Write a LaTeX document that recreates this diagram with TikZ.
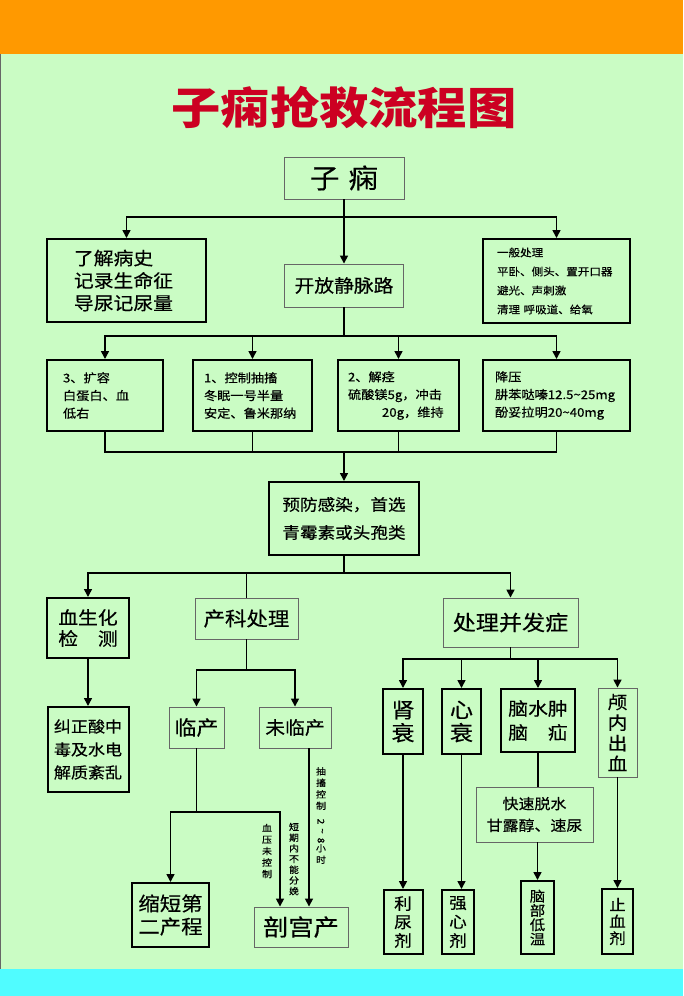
\documentclass[tikz,border=0pt]{standalone}
\usepackage{fontspec}
\usepackage{graphicx}
\setmainfont{Noto Sans CJK SC}[FakeStretch=1.1, FakeBold=0.4]
\newfontfamily\titlefont{Noto Sans CJK SC}[FakeStretch=1.12]
\usetikzlibrary{arrows.meta, calc, positioning}
\definecolor{bggreen}{RGB}{202,252,196}
\definecolor{bandorange}{RGB}{255,153,0}
\definecolor{bandcyan}{RGB}{80,252,255}
\definecolor{titlered}{RGB}{204,0,34}
\newcommand\fsz[2]{\fontsize{#1}{#2}\selectfont}
\tikzset{
    thinbox/.style={
        draw=black!60, line width=0.9pt, inner sep=0pt, align=center
    },
    boldbox/.style={
        draw=black, line width=2pt, inner sep=0pt, align=center
    },
    link/.style={
        line width=1.6pt, black
    },
    arr/.style={
        link, -{Triangle[length=8pt, width=8pt]}
    },
    vlabel/.style={
        align=center, inner sep=0pt, font=\fsz{9}{11.5}
    }
}

\begin{document}
\begin{tikzpicture}[
        x=1pt, y=-1pt,
        % 第二排四个方框
        rowbox/.style={
            boldbox, minimum height=71pt, align=left, font=\fsz{12}{17.7}
        }
    ]
    \useasboundingbox (0,0) rectangle (683,996);

    % ======================================
    % 背景
    % ======================================
    \fill[bggreen] (0,0) rectangle (683,996);
    \fill[bandorange] (0,0) rectangle (683,54);
    \fill[bandcyan] (0,969) rectangle (683,996);
    \draw[black!60, line width=1pt] (0.5,54) -- (0.5,969);

    \node[font=\titlefont\bfseries\fsz{44}{48}, text=titlered] (title) at (344,107) {子痫抢救流程图};

    % ======================================
    % 子痫 -> 三个方框
    % ======================================
    \node[thinbox, minimum width=120pt, minimum height=42pt, font=\fsz{27}{30}] (zixian) at (344,178) {子\hspace{9pt}痫};
    \node[boldbox, minimum height=83pt, inner xsep=27pt, text width=105pt, align=left, font=\fsz{18}{22.5}] (liaojie) at (126.5,280.5) {了解病史\\记录生命征\\导尿记尿量};
    \node[thinbox, minimum width=119pt, minimum height=43pt, font=\fsz{18}{22}] (jingmai) at (344,285.5) {开放静脉路};
    \node[boldbox, minimum height=84pt, inner xsep=14pt, text width=119pt, align=left, font=\fsz{10.5}{19}] (yiban) at (556.5,281) {一般处理\\平卧、侧头、置开口器\\避光、声刺激\\清理 呼吸道、给氧};

    \coordinate (j1) at (344,217);
    \draw[arr] (zixian.south) -- (jingmai.north);
    \draw[arr] (j1) -| (liaojie.north);
    \draw[arr] (j1) -| (yiban.north);

    % ======================================
    % 开放静脉路 -> 四项处理
    % ======================================
    \node[rowbox, inner xsep=16pt, text width=84pt] (kuorong) at (105,395.5) {3、扩容\\白蛋白、血\\低右};
    \node[rowbox, inner xsep=11pt, text width=97pt] (kongzhi) at (252.5,395.5) {1、控制抽搐\\冬眠一号半量\\安定、鲁米那纳};
    \node[rowbox, inner xsep=10pt, text width=101pt] (jiejing) at (398.5,395.5) {2、解痉\\硫酸镁5g，冲击\\\hspace*{34pt}20g，维持};
    \node[rowbox, inner xsep=12pt, text width=123pt] (jiangya) at (556.5,395.5) {降压\\肼苯哒嗪12.5\textasciitilde25mg\\酚妥拉明20\textasciitilde40mg};

    \coordinate (j2) at (344,336);
    \coordinate (j3) at (344,452);
    \draw[link] (jingmai.south) -- (j2);
    \foreach \n in {kuorong,kongzhi,jiejing,jiangya} {
        \draw[arr] (j2) -| (\n.north);
        \draw[link] (\n.south) |- (j3);
    }

    \node[boldbox, minimum width=150pt, minimum height=73pt, font=\fsz{16}{28}] (yufang) at (344,518.5) {预防感染，首选\\青霉素或头孢类};
    \draw[arr] (j3) -- (yufang.north);

    % ======================================
    % 预防感染 -> 三个分支
    % ======================================
    \node[boldbox, minimum width=82pt, minimum height=60pt, font=\fsz{18}{21}] (xsh) at (88,628) {血生化\\检　测};
    \node[thinbox, minimum width=103pt, minimum height=41pt, font=\fsz{19.5}{22}] (chanke) at (246.5,618.5) {产科处理};
    \node[thinbox, minimum width=135pt, minimum height=49pt, font=\fsz{21}{24}] (bingfa) at (510.5,622.5) {处理并发症};

    \coordinate (j4) at (344,573);
    \draw[link] (yufang.south) -- (j4);
    \draw[arr] (j4) -| (xsh.north);
    \draw[link] (j4) -| (chanke.north);
    \draw[arr] (j4) -| (bingfa.north);

    \node[boldbox, minimum width=81pt, minimum height=85pt, font=\fsz{15.5}{23}] (jiuzheng) at (88,749.5) {纠正酸中\\毒及水电\\解质紊乱};
    \draw[arr] (xsh.south) -- (jiuzheng.north);

    % ======================================
    % 产科处理
    % ======================================
    \node[thinbox, minimum width=55pt, minimum height=41pt, font=\fsz{20}{22}] (linchan) at (196.5,727.5) {临产};
    \node[thinbox, minimum width=72pt, minimum height=41pt, font=\fsz{18}{22}] (weilin) at (295,727.5) {未临产};
    \node[boldbox, minimum width=77pt, minimum height=64pt, font=\fsz{19.5}{23}] (suoduan) at (170.5,915) {缩短第\\二产程};
    \node[thinbox, minimum width=94pt, minimum height=40pt, font=\fsz{23}{25}] (pougong) at (301,927) {剖宫产};

    \coordinate (j5) at (246.5,670);
    \coordinate (j6) at (196.5,812);
    \draw[link] (chanke.south) -- (j5);
    \draw[arr] (j5) -| (linchan.north);
    \draw[arr] (j5) -| (weilin.north);
    \draw[link] (linchan.south) -- (j6);
    \draw[arr] (j6) -| (suoduan.north);
    \draw[arr] (j6) -| ($(pougong.north)+(-21,0)$);
    \draw[arr] ($(weilin.south)+(14,0)$) -- ($(pougong.north)+(8,0)$);

    \node[vlabel] (lbl1) at (267,851) {血\\压\\未\\控\\制};
    \node[vlabel, font=\fsz{9}{10.7}] (lbl2) at (294,859) {短\\期\\内\\不\\能\\分\\娩};
    \node[vlabel] (lbl3) at (321,815.5) {抽\\搐\\控\\制\\[-2pt]\rotatebox{-90}{2}\\[-2pt]\rotatebox{-90}{\textasciitilde}\\[-2pt]\rotatebox{-90}{8}\\小\\时};

    % ======================================
    % 处理并发症
    % ======================================
    \node[boldbox, minimum width=40pt, minimum height=65pt, font=\fsz{21}{23}] (shenshuai) at (403,721.5) {肾\\衰};
    \node[boldbox, minimum width=39pt, minimum height=65pt, font=\fsz{21}{23}] (xinshuai) at (461.5,721.5) {心\\衰};
    \node[boldbox, minimum width=74pt, minimum height=63pt, font=\fsz{18}{24}] (naoshui) at (538,720.5) {脑水肿\\脑　疝};
    \node[thinbox, minimum width=39pt, minimum height=89pt, font=\fsz{18}{20.6}] (luxue) at (617.5,732.5) {颅\\内\\出\\血};
    \node[thinbox, minimum width=117pt, minimum height=55pt, font=\fsz{14.5}{21.7}] (kuaisu) at (534.5,814.5) {快速脱水\\甘露醇、速尿};

    \node[boldbox, minimum width=39pt, minimum height=64pt, font=\fsz{16}{18.5}] (liniao) at (403,922) {利\\尿\\剂};
    \node[boldbox, minimum width=32pt, minimum height=64pt, font=\fsz{16}{19}] (qiangxin) at (458,922) {强\\心\\剂};
    \node[boldbox, minimum width=33pt, minimum height=73pt, font=\fsz{14}{14.3}] (naobu) at (537.5,917.5) {脑\\部\\低\\温};
    \node[boldbox, minimum width=31pt, minimum height=65pt, font=\fsz{15}{16.7}] (zhixue) at (617.5,921.5) {止\\血\\剂};

    \coordinate (j7) at (510.5,659);
    \draw[link] (bingfa.south) -- (j7);
    \foreach \n in {shenshuai,xinshuai,naoshui,luxue}
        \draw[arr] (j7) -| (\n.north);
    \draw[arr] (shenshuai.south) -- (liniao.north);
    \draw[arr] (xinshuai.south) -- (xinshuai.south |- qiangxin.north);
    \draw[link] (naoshui.south) -- (naoshui.south |- kuaisu.north);
    \draw[arr] (kuaisu.south -| naobu.north) -- (naobu.north);
    \draw[arr] (luxue.south) -- (zhixue.north);

\end{tikzpicture}
\end{document}
